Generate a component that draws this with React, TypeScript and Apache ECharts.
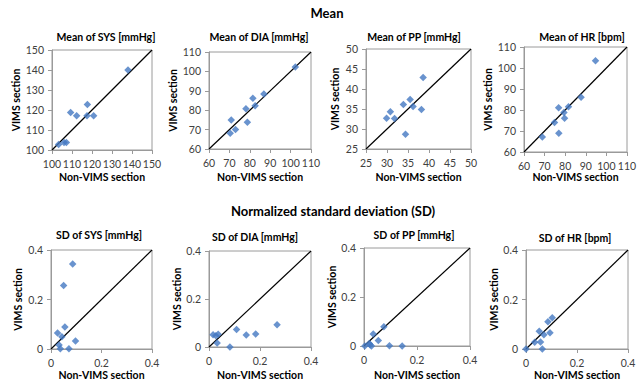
import React, { useEffect, useRef } from 'react';
import * as echarts from 'echarts';

// ---- Data ----
const panelTitles = [
  'Mean of SYS [mmHg]', 'Mean of DIA [mmHg]', 'Mean of PP [mmHg]', 'Mean of HR [bpm]',
  'SD of SYS [mmHg]', 'SD of DIA [mmHg]', 'SD of PP [mmHg]', 'SD of HR [bpm]',
];
const rowHeaders = ['Mean', 'Normalized standard deviation (SD)'];
const xAxisName = 'Non-VIMS section';
const yAxisName = 'VIMS section';

const axisMin = [100, 60, 25, 60, 0, 0, 0, 0];
const axisMax = [150, 110, 50, 110, 0.4, 0.4, 0.4, 0.4];
const axisStep = [10, 10, 5, 10, 0.2, 0.2, 0.2, 0.2];

const sysMeanX = [138, 109.3, 112.3, 117.7, 117.5, 120.8, 103.3, 106, 107.2];
const sysMeanY = [140, 118.8, 117.1, 122.8, 117.1, 117.1, 102.7, 103.7, 103.7];

const diaMeanX = [102.3, 70.9, 70.4, 73.0, 78.1, 78.8, 81.5, 82.6, 86.9];
const diaMeanY = [102.3, 75.0, 68.1, 70.1, 80.7, 73.8, 86.1, 82.3, 88.3];

const ppMeanX = [38.6, 29.9, 30.8, 31.8, 33.9, 35.5, 36.2, 38.2, 34.4];
const ppMeanY = [42.9, 32.7, 34.3, 32.6, 36.1, 37.4, 35.6, 34.9, 28.7];

const hrMeanX = [94.7, 68.9, 74.8, 76.8, 76.9, 79.4, 79.7, 81.6, 87.7];
const hrMeanY = [103.4, 67.1, 74.1, 81.1, 68.9, 78.8, 76.1, 81.5, 86.1];

const sysSdX = [0.086, 0.05, 0.055, 0.026, 0.043, 0.032, 0.037, 0.071, 0.097];
const sysSdY = [0.343, 0.257, 0.089, 0.065, 0.05, 0.016, 0.001, 0.001, 0.032];

const diaSdX = [0.016, 0.027, 0.036, 0.032, 0.108, 0.146, 0.183, 0.082, 0.267];
const diaSdY = [0.051, 0.047, 0.053, 0.017, 0.073, 0.05, 0.054, 0.0, 0.093];

const ppSdX = [0.075, 0.035, 0.054, 0.003, 0.023, 0.028, 0.02, 0.096, 0.144];
const ppSdY = [0.079, 0.049, 0.022, 0.0, 0.005, 0.0, 0.01, 0.001, 0.0];

const hrSdX = [0.0, 0.034, 0.052, 0.057, 0.064, 0.07, 0.086, 0.094, 0.103];
const hrSdY = [0.0, 0.027, 0.072, 0.028, 0.0, 0.058, 0.11, 0.066, 0.126];

const panelX = [sysMeanX, diaMeanX, ppMeanX, hrMeanX, sysSdX, diaSdX, ppSdX, hrSdX];
const panelY = [sysMeanY, diaMeanY, ppMeanY, hrMeanY, sysSdY, diaSdY, ppSdY, hrSdY];

// ---- Layout ----
const grids = [
  { left: 52, top: 50, width: 100, height: 100 },
  { left: 209, top: 52, width: 102, height: 97 },
  { left: 366, top: 49, width: 105, height: 100 },
  { left: 524, top: 47, width: 103, height: 105 },
  { left: 51, top: 250, width: 101, height: 99 },
  { left: 209, top: 251, width: 102, height: 96 },
  { left: 364, top: 248, width: 106, height: 98 },
  { left: 526, top: 250, width: 102, height: 99 },
];
const titlePos = [[106, 37], [259, 37], [414, 37], [582, 37], [99, 235], [255, 237], [414, 235], [575, 238]];
const headerPos = [[327, 13], [333, 211]];
const xNameY = [177, 177, 177, 177, 374.5, 374.5, 374.5, 374.5];
const yNameX = [20, 177, 335, 495, 18, 177, 337, 496];

const FONT = 'Lato, "Open Sans", sans-serif';
const AXIS_GRAY = '#9a9a9a';
const LABEL_GRAY = '#404040';
const MARKER = '#4478c2';

export default function App() {
  const ref = useRef<HTMLDivElement>(null);
  useEffect(() => {
    if (!ref.current) return;
    const chart = echarts.init(ref.current, undefined, { renderer: 'svg' });

    const gridOpts = grids.map((g) => ({
      ...g,
      show: true,
      borderColor: AXIS_GRAY,
      borderWidth: 1,
      backgroundColor: 'transparent',
      containLabel: false,
    }));

    const axisCommon = (i: number) => ({
      type: 'value' as const,
      gridIndex: i,
      min: axisMin[i],
      max: axisMax[i],
      interval: axisStep[i],
      splitLine: { show: false },
      axisLine: { show: true, lineStyle: { color: AXIS_GRAY, width: 1 } },
      axisTick: { show: true, length: 4, lineStyle: { color: AXIS_GRAY } },
      axisLabel: { color: LABEL_GRAY, fontSize: 10.5, fontFamily: FONT, margin: 8 },
      nameTextStyle: { color: '#000', fontSize: 10.5, fontWeight: 'bold' as const, fontFamily: FONT },
      nameLocation: 'middle' as const,
    });

    const xAxes = grids.map((g, i) => ({
      ...axisCommon(i),
      name: xAxisName,
      nameGap: xNameY[i] - 5.5 - (g.top + g.height),
    }));
    const yAxes = grids.map((g, i) => ({
      ...axisCommon(i),
      name: yAxisName,
      nameRotate: 90,
      nameGap: g.left - yNameX[i] - 5.5,
    }));

    const series: any[] = [];
    grids.forEach((_, i) => {
      series.push({
        type: 'line',
        xAxisIndex: i,
        yAxisIndex: i,
        data: [[axisMin[i], axisMin[i]], [axisMax[i], axisMax[i]]],
        symbol: 'none',
        lineStyle: { color: '#000', width: 1.2 },
        silent: true,
        z: 2,
      });
      series.push({
        type: 'scatter',
        xAxisIndex: i,
        yAxisIndex: i,
        data: panelX[i].map((x, k) => [x, panelY[i][k]]),
        symbol: 'diamond',
        symbolSize: 7.5,
        itemStyle: { color: MARKER },
        z: 3,
      });
    });

    const graphics: any[] = [];
    rowHeaders.forEach((t, i) => {
      graphics.push({
        type: 'text',
        x: headerPos[i][0],
        y: headerPos[i][1],
        style: { text: t, font: `bold 13px ${FONT}`, fill: '#000', align: 'center', verticalAlign: 'middle' },
      });
    });
    panelTitles.forEach((t, i) => {
      graphics.push({
        type: 'text',
        x: titlePos[i][0],
        y: titlePos[i][1],
        style: { text: t, font: `bold 10.5px ${FONT}`, fill: '#000', align: 'center', verticalAlign: 'middle' },
      });
    });

    chart.setOption({
      animation: false,
      backgroundColor: '#fff',
      grid: gridOpts,
      xAxis: xAxes,
      yAxis: yAxes,
      series,
      graphic: graphics,
    });
    return () => chart.dispose();
  }, []);

  return <div ref={ref} style={{ position: 'fixed', left: 0, top: 0, width: 641, height: 381 }} />;
}
